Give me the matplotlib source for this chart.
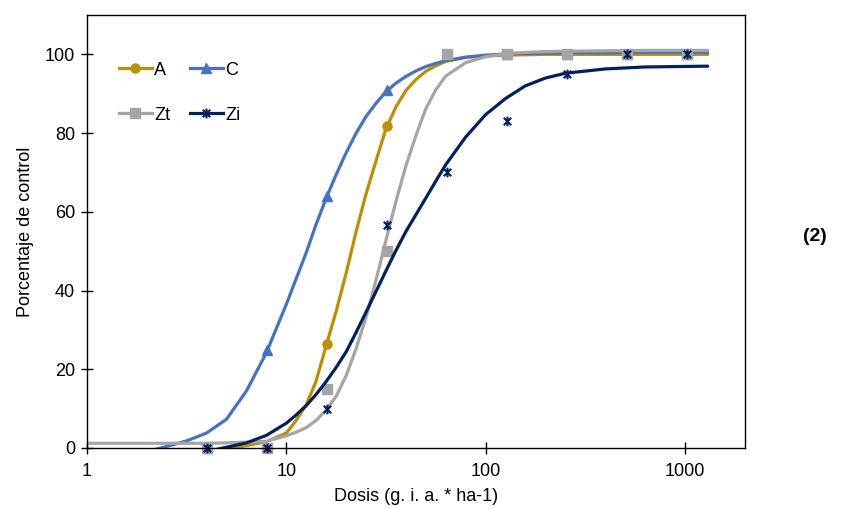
import numpy as np
import matplotlib
matplotlib.use("Agg")
import matplotlib.pyplot as plt
from matplotlib.path import Path
from matplotlib.lines import Line2D

plt.rcParams['font.family'] = ['Liberation Sans', 'DejaVu Sans']

# measured doses and response (% of control)
dosis = [4, 8, 16, 32, 64, 128, 256, 512, 1024]
obs_A = [0, 0, 26.5, 81.7, 100, 100, 100, 100, 100]
obs_C = [0, 25, 64, 91, 100, 100, 100, 100, 100]
obs_Zt = [0, 0, 15, 50, 100, 100, 100, 100, 100]
obs_Zi = [0, 0, 10, 56.7, 70, 83, 95, 100, 100]

# fitted dose-response curves, evaluated on a common dose grid
curva_dosis = [1, 1.58, 2, 2.51, 3.16, 3.98, 5.01, 6.31, 7.94, 10, 11.2, 12.6, 14.1, 15.8,
               17.8, 20, 22.4, 25.1, 28.2, 31.6, 35.5, 39.8, 44.7, 50.1, 56.2, 63.1, 79.4,
               100, 126, 158, 200, 251, 398, 631, 1300]
fit_A = [-3, -3, -3, -2.8, -2.5, -1.5, -0.2, 0.6, 1.6, 3.8, 7, 11, 17, 25.8,
         34.8, 44.6, 55, 64.5, 73, 81.1, 86.7, 90.8, 93.6, 95.7, 97.1, 98.2, 99.2,
         99.6, 99.8, 99.9, 100, 100, 100, 100, 100]
fit_C = [-3, -2, -0.9, 0.4, 1.8, 3.8, 7.3, 14.5, 24.2, 36.5, 43, 49.7, 56.8, 63.3,
         69.5, 75.1, 80, 84.2, 87.6, 90.5, 92.7, 94.4, 95.8, 96.9, 97.7, 98.4, 99.3,
         99.8, 100.1, 100.2, 100.3, 100.4, 100.4, 100.5, 100.5]
fit_Zt = [1.2, 1.2, 1.2, 1.2, 1.2, 1.2, 1.3, 1.5, 1.7, 3.1, 4, 5.2, 7, 9.6,
          13.2, 18.5, 25.3, 33.2, 42.7, 52.8, 62.7, 71.7, 79.4, 86.2, 91, 94.5, 97.9,
          99.4, 100.2, 100.5, 100.7, 100.8, 100.9, 101, 101]
fit_Zi = [-4, -3.5, -3, -2.5, -1.8, -0.9, 0.2, 1.3, 3.2, 6.3, 8.4, 10.8, 13.6, 16.8,
          20.5, 24.5, 29.4, 34.5, 39.8, 45, 50.2, 55, 59.3, 63.5, 67.8, 72, 79,
          84.7, 88.8, 92, 94, 95.2, 96.3, 96.8, 97]

# asterisk marker: x plus vertical bar
star = Path([(-1, -1), (1, 1), (-1, 1), (1, -1), (0, -1.3), (0, 1.3)],
            [Path.MOVETO, Path.LINETO, Path.MOVETO, Path.LINETO, Path.MOVETO, Path.LINETO])

series = [
    ('A', fit_A, obs_A, '#BF8F00', 'o', 6.5),
    ('C', fit_C, obs_C, '#4472C4', '^', 7),
    ('Zt', fit_Zt, obs_Zt, '#A5A5A5', 's', 7),
    ('Zi', fit_Zi, obs_Zi, '#002060', star, 7),
]

fig = plt.figure(figsize=(8.49, 5.09), dpi=100)
ax = fig.add_axes([87/849, 61/509, 658/849, 433/509])

handles = {}
for name, fy, obs, col, mk, ms in series:
    ax.plot(curva_dosis, fy, color=col, lw=2.3, solid_capstyle='round')
    if mk is star:
        ax.plot(dosis, obs, ls='none', marker=mk, ms=ms, mec=col, mew=1.5, clip_on=False)
        handles[name] = Line2D([], [], color=col, lw=2.3, marker=mk, ms=ms, mec=col, mew=1.5, label=name)
    else:
        ax.plot(dosis, obs, ls='none', marker=mk, ms=ms, color=col, mec=col, clip_on=False)
        handles[name] = Line2D([], [], color=col, lw=2.3, marker=mk, ms=ms, label=name)

ax.set_xscale('log')
ax.set_xlim(1, 2000)
ax.set_ylim(0, 110)
ax.set_xticks([1, 10, 100, 1000])
ax.set_xticklabels(['1', '10', '100', '1000'])
ax.xaxis.set_minor_locator(matplotlib.ticker.NullLocator())
ax.set_yticks([0, 20, 40, 60, 80, 100])
ax.tick_params(axis='x', direction='inout', length=9, width=1, labelsize=13, pad=6)
ax.tick_params(axis='y', direction='inout', length=9, width=1, labelsize=13, pad=4)
for s in ax.spines.values():
    s.set_linewidth(1.0)
    s.set_color('black')

ax.set_xlabel('Dosis (g. i. a. * ha-1)', fontsize=13, labelpad=6)
ax.set_ylabel('Porcentaje de control', fontsize=13, labelpad=8)

# column-wise fill: A, Zt in the first column, C, Zi in the second
orden = ['A', 'Zt', 'C', 'Zi']
ax.legend(handles=[handles[k] for k in orden], ncol=2, loc='upper left',
          bbox_to_anchor=(0.024, 0.93), frameon=False, fontsize=13,
          handlelength=1.8, handletextpad=0.15, columnspacing=1.1, labelspacing=1.55)

fig.text(0.96, 0.535, '(2)', fontsize=14, fontweight='bold', ha='center', va='center')

fig.savefig('out.png', dpi=100)
